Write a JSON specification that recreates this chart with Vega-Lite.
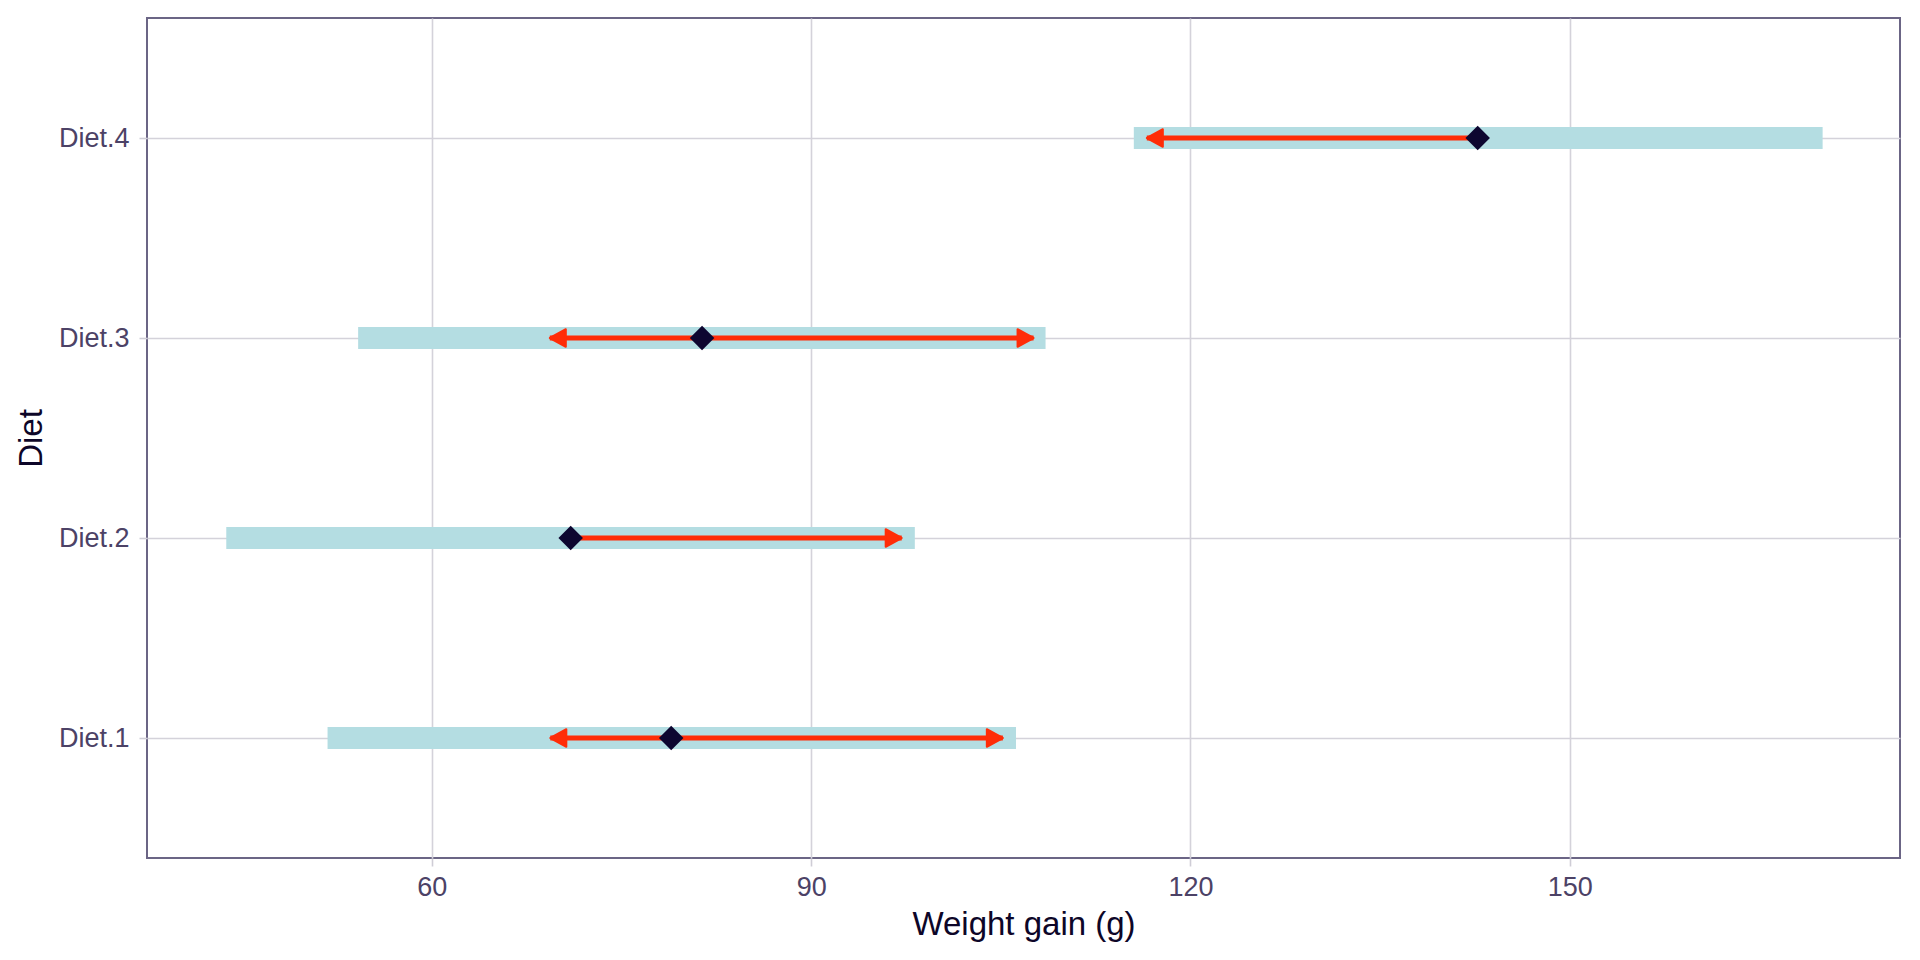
{
  "$schema": "https://vega.github.io/schema/vega-lite/v6.json",
  "width": 1753,
  "height": 840,
  "autosize": "none",
  "padding": {"left": 147, "top": 18, "right": 20, "bottom": 102},
  "background": "white",
  "datasets": {
    "summary": [
      {"diet": "Diet.1", "lo": 51.75, "hi": 106.2, "mean": 78.93},
      {"diet": "Diet.2", "lo": 43.74, "hi": 98.2, "mean": 70.98},
      {"diet": "Diet.3", "lo": 54.17, "hi": 108.54, "mean": 81.37},
      {"diet": "Diet.4", "lo": 115.52, "hi": 170.0, "mean": 142.72}
    ],
    "arrows": [
      {"diet": "Diet.1", "from": 78.93, "to": 69.37, "dir": "left"},
      {"diet": "Diet.1", "from": 78.93, "to": 105.16, "dir": "right"},
      {"diet": "Diet.2", "from": 70.98, "to": 97.16, "dir": "right"},
      {"diet": "Diet.3", "from": 81.37, "to": 69.33, "dir": "left"},
      {"diet": "Diet.3", "from": 81.37, "to": 107.59, "dir": "right"},
      {"diet": "Diet.4", "from": 142.72, "to": 116.55, "dir": "left"}
    ]
  },
  "encoding": {
    "y": {
      "field": "diet",
      "type": "nominal",
      "sort": ["Diet.4", "Diet.3", "Diet.2", "Diet.1"],
      "scale": {"type": "point", "padding": 0.6},
      "axis": {"title": "Diet", "titlePadding": 10, "labelPadding": 10}
    }
  },
  "layer": [
    {
      "data": {"name": "summary"},
      "mark": {"type": "rule", "strokeWidth": 22, "color": "#b4dde2", "strokeCap": "butt"},
      "encoding": {
        "x": {
          "field": "lo",
          "type": "quantitative",
          "scale": {"domain": [37.47, 176.12], "nice": false, "zero": false},
          "axis": {"title": "Weight gain (g)", "values": [60, 90, 120, 150], "titlePadding": 8}
        },
        "x2": {"field": "hi"}
      }
    },
    {
      "data": {"name": "arrows"},
      "mark": {"type": "rule", "strokeWidth": 5, "color": "#ff2d08", "strokeCap": "butt"},
      "encoding": {
        "x": {"field": "from", "type": "quantitative"},
        "x2": {"field": "to"}
      }
    },
    {
      "data": {"name": "arrows"},
      "mark": {"type": "point", "filled": true, "opacity": 1, "color": "#ff2d08", "stroke": "#ff2d08", "strokeWidth": 2, "strokeJoin": "round", "size": 1024},
      "encoding": {
        "x": {"field": "to", "type": "quantitative"},
        "shape": {
          "field": "dir",
          "type": "nominal",
          "scale": {"domain": ["left", "right"], "range": ["M0,0L1,-0.55L1,0.55Z", "M0,0L-1,-0.55L-1,0.55Z"]},
          "legend": null
        }
      }
    },
    {
      "data": {"name": "summary"},
      "mark": {"type": "point", "shape": "diamond", "filled": true, "opacity": 1, "color": "#0d0630", "size": 600},
      "encoding": {
        "x": {"field": "mean", "type": "quantitative"}
      }
    }
  ],
  "config": {
    "font": "Liberation Sans",
    "view": {"stroke": "#6b6585", "strokeWidth": 2},
    "axis": {
      "domain": false,
      "ticks": true,
      "tickColor": "#cfcdd6",
      "tickSize": 8,
      "tickWidth": 1.6,
      "grid": true,
      "gridColor": "#d4d2da",
      "gridWidth": 1.6,
      "labelFont": "Liberation Sans",
      "labelFontSize": 27,
      "labelColor": "#4c4266",
      "labelPadding": 8,
      "titleFont": "Liberation Sans",
      "titleFontSize": 33,
      "titleFontWeight": "normal",
      "titleColor": "#0d0628"
    }
  }
}
